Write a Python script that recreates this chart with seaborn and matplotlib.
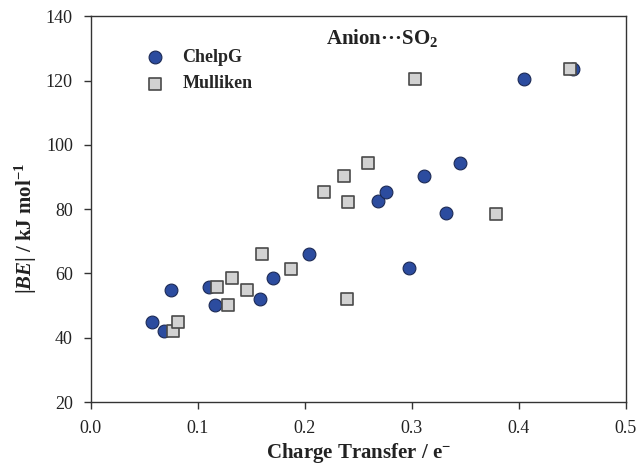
import numpy as np
import pandas as pd
import matplotlib
matplotlib.use("Agg")
import matplotlib.pyplot as plt
import seaborn as sns

# ---- data ----
chelpg_x = [0.057, 0.068, 0.0745, 0.110, 0.116, 0.158, 0.170, 0.204, 0.268, 0.276,
            0.297, 0.311, 0.332, 0.345, 0.405, 0.451]
chelpg_y = [44.9, 42.2, 54.9, 55.7, 50.3, 52.0, 58.7, 66.1, 82.4, 85.3,
            61.6, 90.4, 78.8, 94.5, 120.6, 123.6]
mulliken_x = [0.0766, 0.0816, 0.118, 0.128, 0.132, 0.146, 0.160, 0.187, 0.218, 0.237,
              0.240, 0.239, 0.259, 0.303, 0.379, 0.448]
mulliken_y = [42.0, 44.9, 55.7, 50.3, 58.5, 54.8, 66.0, 61.3, 85.2, 90.2,
              82.3, 52.1, 94.4, 120.6, 78.6, 123.6]
series_names = ["ChelpG", "Mulliken"]
x_ticks = [0.0, 0.1, 0.2, 0.3, 0.4, 0.5]
y_ticks = [20, 40, 60, 80, 100, 120, 140]

df = pd.DataFrame({
    "ct": chelpg_x + mulliken_x,
    "be": chelpg_y + mulliken_y,
    "method": [series_names[0]] * len(chelpg_x) + [series_names[1]] * len(mulliken_x),
})

sns.set_theme(style="white")
plt.rcParams["font.family"] = ["Liberation Serif", "DejaVu Serif"]
plt.rcParams["mathtext.fontset"] = "custom"
plt.rcParams["mathtext.rm"] = "Liberation Serif:bold"
plt.rcParams["mathtext.bf"] = "Liberation Serif:bold"
plt.rcParams["mathtext.it"] = "Liberation Serif:italic:bold"

fig = plt.figure(figsize=(6.4, 4.68), dpi=100)
ax = fig.add_axes([0.142, 0.141, 0.836, 0.824])

sns.scatterplot(data=df[df.method == "ChelpG"], x="ct", y="be", ax=ax,
                marker="o", s=85, color="#2c4c9f", edgecolor="#1c2a55",
                linewidth=0.8, label="ChelpG", zorder=3)
sns.scatterplot(data=df[df.method == "Mulliken"], x="ct", y="be", ax=ax,
                marker="s", s=70, color="#d2d2d2", edgecolor="#4a4a4a",
                linewidth=1.2, label="Mulliken", zorder=4)

ax.set_xlim(0, 0.5)
ax.set_ylim(20, 140)
ax.set_xticks(x_ticks)
ax.set_yticks(y_ticks)
ax.set_xticklabels([f"{v:.1f}" for v in x_ticks])
ax.set_yticklabels([str(v) for v in y_ticks])
ax.tick_params(axis="both", which="major", direction="out", length=5, width=1,
               color="#333333", labelsize=13, labelcolor="#222222", pad=8,
               left=True, bottom=True, top=False, right=False)

for sp in ax.spines.values():
    sp.set_color("#333333")
    sp.set_linewidth(1.0)

ax.set_xlabel(r"Charge Transfer / e$^{-}$", fontsize=15, fontweight="bold",
              labelpad=3, color="#222222")
ax.set_ylabel(r"$|\mathit{BE}|$ / kJ mol$^{-1}$", fontsize=15, fontweight="bold",
              color="#222222")
ax.yaxis.set_label_coords(-0.097, 0.45)

ax.text(0.545, 0.945, "Anion\u00b7\u00b7\u00b7SO$_2$", transform=ax.transAxes,
        ha="center", va="center", fontsize=15, fontweight="bold", color="#222222")

leg = ax.legend(loc="upper left", bbox_to_anchor=(0.07, 0.957), frameon=False,
                handletextpad=0.9, labelspacing=0.5, handlelength=1.2,
                prop={"weight": "bold", "size": 13})

fig.savefig("out.png", dpi=100)
